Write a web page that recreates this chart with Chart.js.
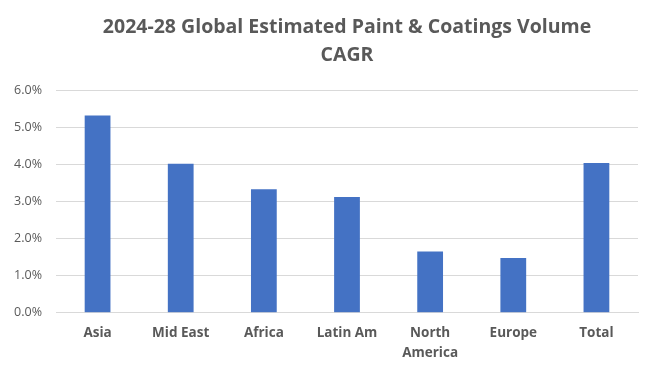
<!DOCTYPE html>
<html>
<head>
<meta charset="utf-8">
<script src="https://cdn.jsdelivr.net/npm/chart.js@4"></script>
<style>
  html, body { margin: 0; padding: 0; background: #fff; }
  #wrap { width: 660px; height: 376px; }
</style>
</head>
<body>
<div id="wrap"><canvas id="chart" width="660" height="376"></canvas></div>
<script>
const regions = ["Asia", "Mid East", "Africa", "Latin Am", ["North", "America"], "Europe", "Total"];
const cagr = [5.32, 4.02, 3.33, 3.12, 1.65, 1.48, 4.04];
const titleLines = ["2024-28 Global Estimated Paint & Coatings Volume", "CAGR"];

const grey = "#595959";

new Chart(document.getElementById("chart"), {
    type: "bar",
    data: {
        labels: regions,
        datasets: [{
            data: cagr,
            backgroundColor: "#4472C4",
            borderWidth: 0,
            barPercentage: 0.31,
            categoryPercentage: 1
        }]
    },
    options: {
        responsive: false,
        animation: false,
        layout: { padding: { left: 0, right: 22, top: 0, bottom: 10 } },
        plugins: {
            legend: { display: false },
            tooltip: { enabled: false },
            title: {
                display: true,
                fullSize: false,
                text: titleLines,
                color: grey,
                font: { family: "'Open Sans', sans-serif", size: 19.5, weight: "bold", lineHeight: 1.44 },
                padding: { top: 13, bottom: 21 }
            }
        },
        scales: {
            x: {
                grid: { display: false },
                border: { color: "#d9d9d9", width: 1 },
                ticks: {
                    color: grey,
                    font: { family: "'Open Sans', sans-serif", size: 13.5, weight: "bold", lineHeight: 1.45 },
                    maxRotation: 0,
                    autoSkip: false,
                    padding: 3
                }
            },
            y: {
                min: 0,
                max: 6,
                afterFit: (axis) => { axis.width = 56; },
                grid: { color: "#d9d9d9", lineWidth: 1, drawTicks: false },
                border: { display: false },
                ticks: {
                    stepSize: 1,
                    color: grey,
                    padding: 14,
                    font: { family: "'Open Sans', sans-serif", size: 12.5 },
                    callback: (v) => v.toFixed(1) + "%"
                }
            }
        }
    }
});
</script>
</body>
</html>
